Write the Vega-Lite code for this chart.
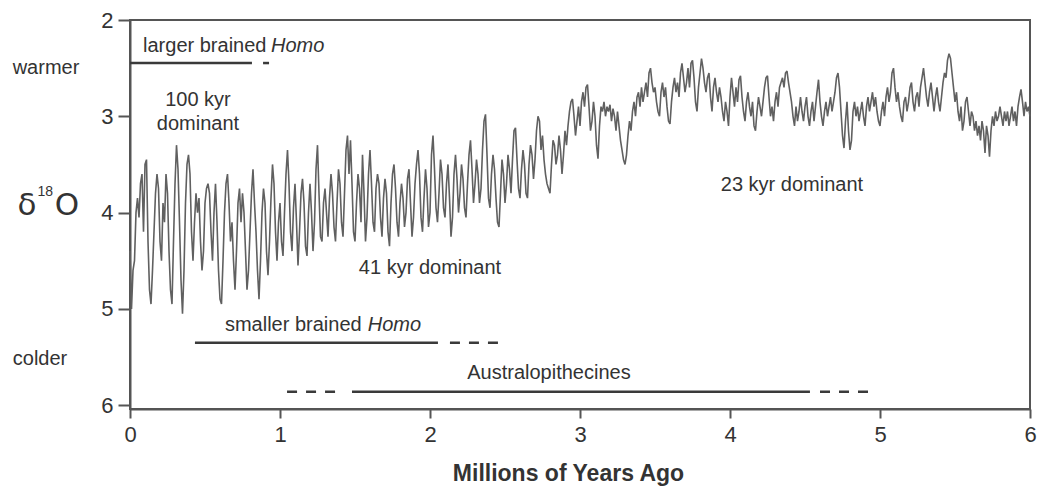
{
  "$schema": "https://vega.github.io/schema/vega-lite/v6.json",
  "width": 900,
  "height": 389,
  "autosize": "none",
  "padding": {"left": 130, "top": 20, "right": 7, "bottom": 85},
  "background": "white",
  "config": {
    "view": {"stroke": "#555", "strokeWidth": 2},
    "font": "Liberation Sans",
    "text": {"font": "Liberation Sans", "fontSize": 20, "fill": "#333"}
  },
  "datasets": {
    "d18o": [
{"ma":0.00,"d18o":4.40},{"ma":0.01,"d18o":5.00},{"ma":0.02,"d18o":4.60},{"ma":0.03,"d18o":4.50},{"ma":0.04,"d18o":4.00},{"ma":0.05,"d18o":3.85},{"ma":0.06,"d18o":4.05},{"ma":0.07,"d18o":3.70},{"ma":0.08,"d18o":3.60},{"ma":0.09,"d18o":4.20},
{"ma":0.10,"d18o":3.50},{"ma":0.11,"d18o":3.45},{"ma":0.12,"d18o":4.30},{"ma":0.13,"d18o":4.80},{"ma":0.14,"d18o":4.95},{"ma":0.15,"d18o":4.60},{"ma":0.16,"d18o":4.20},{"ma":0.17,"d18o":3.80},{"ma":0.18,"d18o":3.60},{"ma":0.19,"d18o":3.75},
{"ma":0.20,"d18o":4.30},{"ma":0.21,"d18o":4.50},{"ma":0.22,"d18o":3.90},{"ma":0.23,"d18o":4.10},{"ma":0.24,"d18o":3.60},{"ma":0.25,"d18o":3.80},{"ma":0.26,"d18o":4.40},{"ma":0.27,"d18o":4.80},{"ma":0.28,"d18o":4.95},{"ma":0.29,"d18o":4.30},
{"ma":0.30,"d18o":3.70},{"ma":0.31,"d18o":3.30},{"ma":0.32,"d18o":3.55},{"ma":0.33,"d18o":4.10},{"ma":0.34,"d18o":4.70},{"ma":0.35,"d18o":5.05},{"ma":0.36,"d18o":4.60},{"ma":0.37,"d18o":3.90},{"ma":0.38,"d18o":3.50},{"ma":0.39,"d18o":3.40},
{"ma":0.40,"d18o":3.60},{"ma":0.41,"d18o":4.20},{"ma":0.42,"d18o":4.50},{"ma":0.43,"d18o":4.10},{"ma":0.44,"d18o":3.80},{"ma":0.45,"d18o":4.00},{"ma":0.46,"d18o":3.85},{"ma":0.47,"d18o":4.30},{"ma":0.48,"d18o":4.60},{"ma":0.49,"d18o":4.40},
{"ma":0.50,"d18o":3.90},{"ma":0.51,"d18o":3.75},{"ma":0.52,"d18o":3.70},{"ma":0.53,"d18o":3.80},{"ma":0.54,"d18o":4.20},{"ma":0.55,"d18o":4.50},{"ma":0.56,"d18o":4.00},{"ma":0.57,"d18o":3.70},{"ma":0.58,"d18o":4.10},{"ma":0.59,"d18o":4.60},
{"ma":0.60,"d18o":4.90},{"ma":0.61,"d18o":4.95},{"ma":0.62,"d18o":4.50},{"ma":0.63,"d18o":4.00},{"ma":0.64,"d18o":3.70},{"ma":0.65,"d18o":3.60},{"ma":0.66,"d18o":3.90},{"ma":0.67,"d18o":4.30},{"ma":0.68,"d18o":4.10},{"ma":0.69,"d18o":4.50},
{"ma":0.70,"d18o":4.80},{"ma":0.71,"d18o":4.40},{"ma":0.72,"d18o":3.90},{"ma":0.73,"d18o":3.75},{"ma":0.74,"d18o":4.10},{"ma":0.75,"d18o":3.80},{"ma":0.76,"d18o":4.00},{"ma":0.77,"d18o":4.40},{"ma":0.78,"d18o":4.80},{"ma":0.79,"d18o":4.60},
{"ma":0.80,"d18o":4.20},{"ma":0.81,"d18o":3.80},{"ma":0.82,"d18o":3.55},{"ma":0.83,"d18o":3.90},{"ma":0.84,"d18o":4.20},{"ma":0.85,"d18o":4.60},{"ma":0.86,"d18o":4.90},{"ma":0.87,"d18o":4.50},{"ma":0.88,"d18o":4.00},{"ma":0.89,"d18o":3.75},
{"ma":0.90,"d18o":3.90},{"ma":0.91,"d18o":4.40},{"ma":0.92,"d18o":4.65},{"ma":0.93,"d18o":4.30},{"ma":0.94,"d18o":3.85},{"ma":0.95,"d18o":3.50},{"ma":0.96,"d18o":3.70},{"ma":0.97,"d18o":4.20},{"ma":0.98,"d18o":4.50},{"ma":0.99,"d18o":4.10},
{"ma":1.00,"d18o":3.90},{"ma":1.01,"d18o":4.30},{"ma":1.02,"d18o":4.45},{"ma":1.03,"d18o":4.00},{"ma":1.04,"d18o":3.60},{"ma":1.05,"d18o":3.35},{"ma":1.06,"d18o":3.70},{"ma":1.07,"d18o":4.20},{"ma":1.08,"d18o":4.40},{"ma":1.09,"d18o":3.95},
{"ma":1.10,"d18o":3.70},{"ma":1.11,"d18o":4.10},{"ma":1.12,"d18o":4.55},{"ma":1.13,"d18o":4.20},{"ma":1.14,"d18o":3.80},{"ma":1.15,"d18o":3.65},{"ma":1.16,"d18o":3.90},{"ma":1.17,"d18o":4.35},{"ma":1.18,"d18o":4.45},{"ma":1.19,"d18o":4.00},
{"ma":1.20,"d18o":3.70},{"ma":1.21,"d18o":4.00},{"ma":1.22,"d18o":4.40},{"ma":1.23,"d18o":4.10},{"ma":1.24,"d18o":3.55},{"ma":1.25,"d18o":3.30},{"ma":1.26,"d18o":3.80},{"ma":1.27,"d18o":4.25},{"ma":1.28,"d18o":4.30},{"ma":1.29,"d18o":3.90},
{"ma":1.30,"d18o":3.75},{"ma":1.31,"d18o":4.00},{"ma":1.32,"d18o":4.25},{"ma":1.33,"d18o":3.85},{"ma":1.34,"d18o":3.60},{"ma":1.35,"d18o":3.80},{"ma":1.36,"d18o":4.15},{"ma":1.37,"d18o":4.30},{"ma":1.38,"d18o":3.90},{"ma":1.39,"d18o":3.55},
{"ma":1.40,"d18o":3.70},{"ma":1.41,"d18o":4.10},{"ma":1.42,"d18o":4.25},{"ma":1.43,"d18o":3.80},{"ma":1.44,"d18o":3.35},{"ma":1.45,"d18o":3.20},{"ma":1.46,"d18o":3.60},{"ma":1.47,"d18o":3.25},{"ma":1.48,"d18o":3.70},{"ma":1.49,"d18o":4.20},
{"ma":1.50,"d18o":4.30},{"ma":1.51,"d18o":3.90},{"ma":1.52,"d18o":3.60},{"ma":1.53,"d18o":3.75},{"ma":1.54,"d18o":4.10},{"ma":1.55,"d18o":3.40},{"ma":1.56,"d18o":3.80},{"ma":1.57,"d18o":4.30},{"ma":1.58,"d18o":4.05},{"ma":1.59,"d18o":3.60},
{"ma":1.60,"d18o":3.35},{"ma":1.61,"d18o":3.70},{"ma":1.62,"d18o":4.10},{"ma":1.63,"d18o":4.20},{"ma":1.64,"d18o":3.75},{"ma":1.65,"d18o":3.60},{"ma":1.66,"d18o":3.70},{"ma":1.67,"d18o":4.05},{"ma":1.68,"d18o":4.25},{"ma":1.69,"d18o":3.85},
{"ma":1.70,"d18o":3.65},{"ma":1.71,"d18o":3.80},{"ma":1.72,"d18o":4.20},{"ma":1.73,"d18o":4.35},{"ma":1.74,"d18o":3.90},{"ma":1.75,"d18o":3.60},{"ma":1.76,"d18o":3.50},{"ma":1.77,"d18o":3.75},{"ma":1.78,"d18o":4.10},{"ma":1.79,"d18o":4.25},
{"ma":1.80,"d18o":3.90},{"ma":1.81,"d18o":3.70},{"ma":1.82,"d18o":3.85},{"ma":1.83,"d18o":4.15},{"ma":1.84,"d18o":4.00},{"ma":1.85,"d18o":3.65},{"ma":1.86,"d18o":3.55},{"ma":1.87,"d18o":3.90},{"ma":1.88,"d18o":4.25},{"ma":1.89,"d18o":4.05},
{"ma":1.90,"d18o":3.70},{"ma":1.91,"d18o":3.50},{"ma":1.92,"d18o":3.35},{"ma":1.93,"d18o":3.60},{"ma":1.94,"d18o":4.05},{"ma":1.95,"d18o":4.20},{"ma":1.96,"d18o":3.85},{"ma":1.97,"d18o":3.55},{"ma":1.98,"d18o":3.75},{"ma":1.99,"d18o":4.15},
{"ma":2.00,"d18o":4.00},{"ma":2.01,"d18o":3.40},{"ma":2.02,"d18o":3.20},{"ma":2.03,"d18o":3.55},{"ma":2.04,"d18o":3.95},{"ma":2.05,"d18o":4.10},{"ma":2.06,"d18o":3.80},{"ma":2.07,"d18o":3.45},{"ma":2.08,"d18o":3.60},{"ma":2.09,"d18o":3.95},
{"ma":2.10,"d18o":4.05},{"ma":2.11,"d18o":3.70},{"ma":2.12,"d18o":3.50},{"ma":2.13,"d18o":3.85},{"ma":2.14,"d18o":4.25},{"ma":2.15,"d18o":4.05},{"ma":2.16,"d18o":3.60},{"ma":2.17,"d18o":3.40},{"ma":2.18,"d18o":3.65},{"ma":2.19,"d18o":4.00},
{"ma":2.20,"d18o":3.80},{"ma":2.21,"d18o":3.50},{"ma":2.22,"d18o":3.65},{"ma":2.23,"d18o":3.95},{"ma":2.24,"d18o":4.05},{"ma":2.25,"d18o":3.70},{"ma":2.26,"d18o":3.40},{"ma":2.27,"d18o":3.25},{"ma":2.28,"d18o":3.55},{"ma":2.29,"d18o":3.90},
{"ma":2.30,"d18o":3.70},{"ma":2.31,"d18o":3.45},{"ma":2.32,"d18o":3.60},{"ma":2.33,"d18o":3.90},{"ma":2.34,"d18o":3.75},{"ma":2.35,"d18o":3.35},{"ma":2.36,"d18o":3.05},{"ma":2.37,"d18o":2.98},{"ma":2.38,"d18o":3.40},{"ma":2.39,"d18o":3.85},
{"ma":2.40,"d18o":3.95},{"ma":2.41,"d18o":3.60},{"ma":2.42,"d18o":3.40},{"ma":2.43,"d18o":3.55},{"ma":2.44,"d18o":3.85},{"ma":2.45,"d18o":4.10},{"ma":2.46,"d18o":4.15},{"ma":2.47,"d18o":3.80},{"ma":2.48,"d18o":3.45},{"ma":2.49,"d18o":3.60},
{"ma":2.50,"d18o":3.90},{"ma":2.51,"d18o":3.70},{"ma":2.52,"d18o":3.40},{"ma":2.53,"d18o":3.55},{"ma":2.54,"d18o":3.80},{"ma":2.55,"d18o":3.45},{"ma":2.56,"d18o":3.15},{"ma":2.57,"d18o":3.12},{"ma":2.58,"d18o":3.45},{"ma":2.59,"d18o":3.75},
{"ma":2.60,"d18o":3.85},{"ma":2.61,"d18o":3.55},{"ma":2.62,"d18o":3.35},{"ma":2.63,"d18o":3.50},{"ma":2.64,"d18o":3.80},{"ma":2.65,"d18o":3.85},{"ma":2.66,"d18o":3.50},{"ma":2.67,"d18o":3.30},{"ma":2.68,"d18o":3.40},{"ma":2.69,"d18o":3.65},
{"ma":2.70,"d18o":3.45},{"ma":2.71,"d18o":3.15},{"ma":2.72,"d18o":3.00},{"ma":2.73,"d18o":3.05},{"ma":2.74,"d18o":3.35},{"ma":2.75,"d18o":3.20},{"ma":2.76,"d18o":3.45},{"ma":2.77,"d18o":3.60},{"ma":2.78,"d18o":3.70},{"ma":2.79,"d18o":3.75},
{"ma":2.80,"d18o":3.80},{"ma":2.81,"d18o":3.50},{"ma":2.82,"d18o":3.25},{"ma":2.83,"d18o":3.30},{"ma":2.84,"d18o":3.50},{"ma":2.85,"d18o":3.40},{"ma":2.86,"d18o":3.20},{"ma":2.87,"d18o":3.35},{"ma":2.88,"d18o":3.60},{"ma":2.89,"d18o":3.40},
{"ma":2.90,"d18o":3.15},{"ma":2.91,"d18o":3.30},{"ma":2.92,"d18o":3.10},{"ma":2.93,"d18o":2.95},{"ma":2.94,"d18o":2.85},{"ma":2.95,"d18o":2.82},{"ma":2.96,"d18o":3.00},{"ma":2.97,"d18o":3.20},{"ma":2.98,"d18o":3.05},{"ma":2.99,"d18o":2.90},
{"ma":3.00,"d18o":3.10},{"ma":3.01,"d18o":2.85},{"ma":3.02,"d18o":2.75},{"ma":3.03,"d18o":2.90},{"ma":3.04,"d18o":2.70},{"ma":3.05,"d18o":2.67},{"ma":3.06,"d18o":2.90},{"ma":3.07,"d18o":3.15},{"ma":3.08,"d18o":3.05},{"ma":3.09,"d18o":2.85},
{"ma":3.10,"d18o":3.00},{"ma":3.11,"d18o":3.30},{"ma":3.12,"d18o":3.44},{"ma":3.13,"d18o":3.10},{"ma":3.14,"d18o":2.90},{"ma":3.15,"d18o":2.95},{"ma":3.16,"d18o":2.85},{"ma":3.17,"d18o":3.00},{"ma":3.18,"d18o":2.90},{"ma":3.19,"d18o":2.95},
{"ma":3.20,"d18o":2.88},{"ma":3.21,"d18o":3.05},{"ma":3.22,"d18o":2.92},{"ma":3.23,"d18o":3.00},{"ma":3.24,"d18o":3.15},{"ma":3.25,"d18o":2.95},{"ma":3.26,"d18o":3.10},{"ma":3.27,"d18o":3.25},{"ma":3.28,"d18o":3.35},{"ma":3.29,"d18o":3.45},
{"ma":3.30,"d18o":3.50},{"ma":3.31,"d18o":3.40},{"ma":3.32,"d18o":3.20},{"ma":3.33,"d18o":3.05},{"ma":3.34,"d18o":3.15},{"ma":3.35,"d18o":2.95},{"ma":3.36,"d18o":2.85},{"ma":3.37,"d18o":3.00},{"ma":3.38,"d18o":2.80},{"ma":3.39,"d18o":2.75},
{"ma":3.40,"d18o":2.90},{"ma":3.41,"d18o":2.70},{"ma":3.42,"d18o":2.85},{"ma":3.43,"d18o":2.75},{"ma":3.44,"d18o":2.65},{"ma":3.45,"d18o":2.80},{"ma":3.46,"d18o":2.55},{"ma":3.47,"d18o":2.50},{"ma":3.48,"d18o":2.65},{"ma":3.49,"d18o":2.75},
{"ma":3.50,"d18o":2.70},{"ma":3.51,"d18o":2.85},{"ma":3.52,"d18o":2.95},{"ma":3.53,"d18o":3.00},{"ma":3.54,"d18o":2.75},{"ma":3.55,"d18o":2.65},{"ma":3.56,"d18o":2.80},{"ma":3.57,"d18o":2.70},{"ma":3.58,"d18o":2.90},{"ma":3.59,"d18o":3.05},
{"ma":3.60,"d18o":3.08},{"ma":3.61,"d18o":2.85},{"ma":3.62,"d18o":2.70},{"ma":3.63,"d18o":2.60},{"ma":3.64,"d18o":2.75},{"ma":3.65,"d18o":2.65},{"ma":3.66,"d18o":2.80},{"ma":3.67,"d18o":2.55},{"ma":3.68,"d18o":2.45},{"ma":3.69,"d18o":2.60},
{"ma":3.70,"d18o":2.75},{"ma":3.71,"d18o":2.65},{"ma":3.72,"d18o":2.50},{"ma":3.73,"d18o":2.70},{"ma":3.74,"d18o":2.45},{"ma":3.75,"d18o":2.42},{"ma":3.76,"d18o":2.60},{"ma":3.77,"d18o":2.85},{"ma":3.78,"d18o":2.95},{"ma":3.79,"d18o":2.70},
{"ma":3.80,"d18o":2.55},{"ma":3.81,"d18o":2.40},{"ma":3.82,"d18o":2.50},{"ma":3.83,"d18o":2.65},{"ma":3.84,"d18o":2.75},{"ma":3.85,"d18o":2.60},{"ma":3.86,"d18o":2.55},{"ma":3.87,"d18o":2.80},{"ma":3.88,"d18o":2.95},{"ma":3.89,"d18o":2.70},
{"ma":3.90,"d18o":2.60},{"ma":3.91,"d18o":2.75},{"ma":3.92,"d18o":2.85},{"ma":3.93,"d18o":2.70},{"ma":3.94,"d18o":2.80},{"ma":3.95,"d18o":2.95},{"ma":3.96,"d18o":3.05},{"ma":3.97,"d18o":2.85},{"ma":3.98,"d18o":2.95},{"ma":3.99,"d18o":3.10},
{"ma":4.00,"d18o":2.80},{"ma":4.01,"d18o":2.60},{"ma":4.02,"d18o":2.75},{"ma":4.03,"d18o":2.90},{"ma":4.04,"d18o":2.70},{"ma":4.05,"d18o":2.85},{"ma":4.06,"d18o":2.62},{"ma":4.07,"d18o":2.58},{"ma":4.08,"d18o":2.80},{"ma":4.09,"d18o":2.95},
{"ma":4.10,"d18o":3.05},{"ma":4.11,"d18o":2.85},{"ma":4.12,"d18o":2.75},{"ma":4.13,"d18o":2.90},{"ma":4.14,"d18o":3.00},{"ma":4.15,"d18o":2.85},{"ma":4.16,"d18o":3.10},{"ma":4.17,"d18o":3.15},{"ma":4.18,"d18o":2.95},{"ma":4.19,"d18o":2.80},
{"ma":4.20,"d18o":2.90},{"ma":4.21,"d18o":3.00},{"ma":4.22,"d18o":2.85},{"ma":4.23,"d18o":2.70},{"ma":4.24,"d18o":2.60},{"ma":4.25,"d18o":2.58},{"ma":4.26,"d18o":2.80},{"ma":4.27,"d18o":3.00},{"ma":4.28,"d18o":2.90},{"ma":4.29,"d18o":3.05},
{"ma":4.30,"d18o":2.85},{"ma":4.31,"d18o":2.75},{"ma":4.32,"d18o":2.90},{"ma":4.33,"d18o":2.70},{"ma":4.34,"d18o":2.65},{"ma":4.35,"d18o":2.60},{"ma":4.36,"d18o":2.70},{"ma":4.37,"d18o":2.55},{"ma":4.38,"d18o":2.53},{"ma":4.39,"d18o":2.65},
{"ma":4.40,"d18o":2.75},{"ma":4.41,"d18o":2.85},{"ma":4.42,"d18o":3.00},{"ma":4.43,"d18o":3.10},{"ma":4.44,"d18o":2.90},{"ma":4.45,"d18o":3.05},{"ma":4.46,"d18o":2.95},{"ma":4.47,"d18o":2.80},{"ma":4.48,"d18o":2.95},{"ma":4.49,"d18o":3.05},
{"ma":4.50,"d18o":2.90},{"ma":4.51,"d18o":2.80},{"ma":4.52,"d18o":3.00},{"ma":4.53,"d18o":3.10},{"ma":4.54,"d18o":2.95},{"ma":4.55,"d18o":2.85},{"ma":4.56,"d18o":3.05},{"ma":4.57,"d18o":2.90},{"ma":4.58,"d18o":2.75},{"ma":4.59,"d18o":2.62},
{"ma":4.60,"d18o":2.85},{"ma":4.61,"d18o":3.00},{"ma":4.62,"d18o":3.10},{"ma":4.63,"d18o":2.95},{"ma":4.64,"d18o":2.85},{"ma":4.65,"d18o":3.00},{"ma":4.66,"d18o":2.90},{"ma":4.67,"d18o":2.80},{"ma":4.68,"d18o":2.95},{"ma":4.69,"d18o":2.85},
{"ma":4.70,"d18o":2.75},{"ma":4.71,"d18o":2.60},{"ma":4.72,"d18o":2.55},{"ma":4.73,"d18o":2.70},{"ma":4.74,"d18o":2.95},{"ma":4.75,"d18o":3.20},{"ma":4.76,"d18o":3.33},{"ma":4.77,"d18o":3.05},{"ma":4.78,"d18o":2.85},{"ma":4.79,"d18o":3.15},
{"ma":4.80,"d18o":3.35},{"ma":4.81,"d18o":3.25},{"ma":4.82,"d18o":2.95},{"ma":4.83,"d18o":2.85},{"ma":4.84,"d18o":3.00},{"ma":4.85,"d18o":2.90},{"ma":4.86,"d18o":3.05},{"ma":4.87,"d18o":2.95},{"ma":4.88,"d18o":2.85},{"ma":4.89,"d18o":3.00},
{"ma":4.90,"d18o":3.10},{"ma":4.91,"d18o":2.90},{"ma":4.92,"d18o":2.80},{"ma":4.93,"d18o":2.95},{"ma":4.94,"d18o":2.85},{"ma":4.95,"d18o":2.75},{"ma":4.96,"d18o":2.90},{"ma":4.97,"d18o":2.80},{"ma":4.98,"d18o":2.95},{"ma":4.99,"d18o":3.05},
{"ma":5.00,"d18o":3.10},{"ma":5.01,"d18o":2.95},{"ma":5.02,"d18o":2.85},{"ma":5.03,"d18o":3.00},{"ma":5.04,"d18o":2.80},{"ma":5.05,"d18o":2.70},{"ma":5.06,"d18o":2.85},{"ma":5.07,"d18o":2.75},{"ma":5.08,"d18o":2.55},{"ma":5.09,"d18o":2.50},
{"ma":5.10,"d18o":2.70},{"ma":5.11,"d18o":2.85},{"ma":5.12,"d18o":2.75},{"ma":5.13,"d18o":2.90},{"ma":5.14,"d18o":3.00},{"ma":5.15,"d18o":3.06},{"ma":5.16,"d18o":2.85},{"ma":5.17,"d18o":2.80},{"ma":5.18,"d18o":2.95},{"ma":5.19,"d18o":2.85},
{"ma":5.20,"d18o":2.70},{"ma":5.21,"d18o":2.65},{"ma":5.22,"d18o":2.85},{"ma":5.23,"d18o":2.95},{"ma":5.24,"d18o":2.80},{"ma":5.25,"d18o":2.75},{"ma":5.26,"d18o":2.90},{"ma":5.27,"d18o":2.70},{"ma":5.28,"d18o":2.60},{"ma":5.29,"d18o":2.50},
{"ma":5.30,"d18o":2.65},{"ma":5.31,"d18o":2.80},{"ma":5.32,"d18o":2.90},{"ma":5.33,"d18o":2.75},{"ma":5.34,"d18o":2.65},{"ma":5.35,"d18o":2.80},{"ma":5.36,"d18o":2.95},{"ma":5.37,"d18o":2.80},{"ma":5.38,"d18o":2.70},{"ma":5.39,"d18o":2.85},
{"ma":5.40,"d18o":2.95},{"ma":5.41,"d18o":2.80},{"ma":5.42,"d18o":2.65},{"ma":5.43,"d18o":2.55},{"ma":5.44,"d18o":2.60},{"ma":5.45,"d18o":2.42},{"ma":5.46,"d18o":2.35},{"ma":5.47,"d18o":2.40},{"ma":5.48,"d18o":2.55},{"ma":5.49,"d18o":2.70},
{"ma":5.50,"d18o":2.85},{"ma":5.51,"d18o":2.75},{"ma":5.52,"d18o":2.95},{"ma":5.53,"d18o":3.05},{"ma":5.54,"d18o":2.90},{"ma":5.55,"d18o":3.15},{"ma":5.56,"d18o":3.05},{"ma":5.57,"d18o":2.85},{"ma":5.58,"d18o":2.80},{"ma":5.59,"d18o":2.95},
{"ma":5.60,"d18o":3.10},{"ma":5.61,"d18o":2.95},{"ma":5.62,"d18o":3.00},{"ma":5.63,"d18o":3.15},{"ma":5.64,"d18o":3.05},{"ma":5.65,"d18o":3.20},{"ma":5.66,"d18o":3.10},{"ma":5.67,"d18o":3.25},{"ma":5.68,"d18o":3.05},{"ma":5.69,"d18o":3.15},
{"ma":5.70,"d18o":3.38},{"ma":5.71,"d18o":3.10},{"ma":5.72,"d18o":3.20},{"ma":5.73,"d18o":3.42},{"ma":5.74,"d18o":3.15},{"ma":5.75,"d18o":3.00},{"ma":5.76,"d18o":3.10},{"ma":5.77,"d18o":2.95},{"ma":5.78,"d18o":3.05},{"ma":5.79,"d18o":3.00},
{"ma":5.80,"d18o":2.90},{"ma":5.81,"d18o":3.00},{"ma":5.82,"d18o":3.10},{"ma":5.83,"d18o":2.95},{"ma":5.84,"d18o":3.05},{"ma":5.85,"d18o":2.95},{"ma":5.86,"d18o":3.10},{"ma":5.87,"d18o":3.00},{"ma":5.88,"d18o":2.90},{"ma":5.89,"d18o":3.05},
{"ma":5.90,"d18o":2.95},{"ma":5.91,"d18o":3.10},{"ma":5.92,"d18o":2.90},{"ma":5.93,"d18o":2.80},{"ma":5.94,"d18o":2.72},{"ma":5.95,"d18o":2.85},{"ma":5.96,"d18o":3.00},{"ma":5.97,"d18o":2.85},{"ma":5.98,"d18o":2.95},{"ma":5.99,"d18o":2.90},
{"ma":6.00,"d18o":3.00}
    ],
    "centerLabels": [
      {"ma": -0.56, "d18o": 2.5, "label": "warmer"},
      {"ma": -0.6, "d18o": 5.52, "label": "colder"},
      {"ma": 0.453, "d18o": 2.83, "label": "100 kyr"},
      {"ma": 0.453, "d18o": 3.08, "label": "dominant"},
      {"ma": 2.0, "d18o": 4.575, "label": "41 kyr dominant"},
      {"ma": 4.413, "d18o": 3.713, "label": "23 kyr dominant"},
      {"ma": 2.793, "d18o": 5.667, "label": "Australopithecines"}
    ],
    "groupLabels": [
      {"ma": 0.087, "d18o": 2.27, "label": "larger brained"},
      {"ma": 0.633, "d18o": 5.167, "label": "smaller brained"}
    ],
    "homoLabels": [
      {"ma": 0.94, "d18o": 2.27, "label": "Homo"},
      {"ma": 1.585, "d18o": 5.167, "label": "Homo"}
    ],
    "symbolBig": [
      {"ma": -0.687, "d18o": 3.93, "label": "δ"},
      {"ma": -0.42, "d18o": 3.93, "label": "O"}
    ],
    "symbolSup": [
      {"ma": -0.565, "d18o": 3.79, "label": "18"}
    ],
    "solidRanges": [
      {"group": "larger brained Homo", "ma": 0.0, "ma2": 0.813, "d18o": 2.447},
      {"group": "smaller brained Homo", "ma": 0.433, "ma2": 2.053, "d18o": 5.351},
      {"group": "Australopithecines", "ma": 1.48, "ma2": 4.533, "d18o": 5.86}
    ],
    "dashedRanges": [
      {"group": "larger brained Homo", "ma": 0.887, "ma2": 0.927, "d18o": 2.447},
      {"group": "smaller brained Homo", "ma": 2.133, "ma2": 2.48, "d18o": 5.351},
      {"group": "Australopithecines", "ma": 1.047, "ma2": 1.4, "d18o": 5.86},
      {"group": "Australopithecines", "ma": 4.6, "ma2": 4.967, "d18o": 5.86}
    ]
  },
  "encoding": {
    "x": {
      "field": "ma", "type": "quantitative",
      "scale": {"domain": [0, 6], "nice": false, "zero": false},
      "axis": {
        "values": [0, 1, 2, 3, 4, 5, 6], "format": "d", "grid": false,
        "labelFlush": false, "labelOverlap": false,
        "labelFont": "Liberation Sans", "labelFontSize": 22, "labelColor": "#333", "labelPadding": 6,
        "tickSize": 9, "tickColor": "#555", "tickWidth": 2,
        "domainColor": "#555", "domainWidth": 2,
        "title": "Millions of Years Ago", "titleFont": "Liberation Sans", "titleFontSize": 23,
        "titleFontWeight": "bold", "titleColor": "#333", "titlePadding": 17, "titleX": 438
      }
    },
    "y": {
      "field": "d18o", "type": "quantitative",
      "scale": {"domain": [2, 6.04], "nice": false, "zero": false, "reverse": true},
      "axis": {
        "values": [2, 3, 4, 5, 6], "format": "d", "grid": false, "title": null,
        "labelFont": "Liberation Sans", "labelFontSize": 22, "labelColor": "#333", "labelPadding": 5,
        "tickSize": 12, "tickColor": "#555", "tickWidth": 2,
        "domainColor": "#555", "domainWidth": 2
      }
    }
  },
  "layer": [
    {
      "data": {"name": "d18o"},
      "mark": {"type": "line", "color": "#606060", "strokeWidth": 1.6, "strokeJoin": "miter", "strokeMiterLimit": 2}
    },
    {
      "data": {"name": "solidRanges"},
      "mark": {"type": "rule", "color": "#3a3a3a", "strokeWidth": 2.5},
      "encoding": {"x2": {"field": "ma2"}}
    },
    {
      "data": {"name": "dashedRanges"},
      "mark": {"type": "rule", "color": "#3a3a3a", "strokeWidth": 2.5, "strokeDash": [10, 9]},
      "encoding": {"x2": {"field": "ma2"}}
    },
    {
      "data": {"name": "centerLabels"},
      "mark": {"type": "text", "align": "center", "baseline": "middle", "fontSize": 20, "color": "#333"},
      "encoding": {"text": {"field": "label"}}
    },
    {
      "data": {"name": "groupLabels"},
      "mark": {"type": "text", "align": "left", "baseline": "middle", "fontSize": 20, "color": "#333"},
      "encoding": {"text": {"field": "label"}}
    },
    {
      "data": {"name": "homoLabels"},
      "mark": {"type": "text", "align": "left", "baseline": "middle", "fontSize": 20, "fontStyle": "italic", "color": "#333"},
      "encoding": {"text": {"field": "label"}}
    },
    {
      "data": {"name": "symbolBig"},
      "mark": {"type": "text", "align": "center", "baseline": "middle", "fontSize": 31, "font": "DejaVu Sans", "color": "#333"},
      "encoding": {"text": {"field": "label"}}
    },
    {
      "data": {"name": "symbolSup"},
      "mark": {"type": "text", "align": "center", "baseline": "middle", "fontSize": 14, "color": "#333"},
      "encoding": {"text": {"field": "label"}}
    }
  ]
}
